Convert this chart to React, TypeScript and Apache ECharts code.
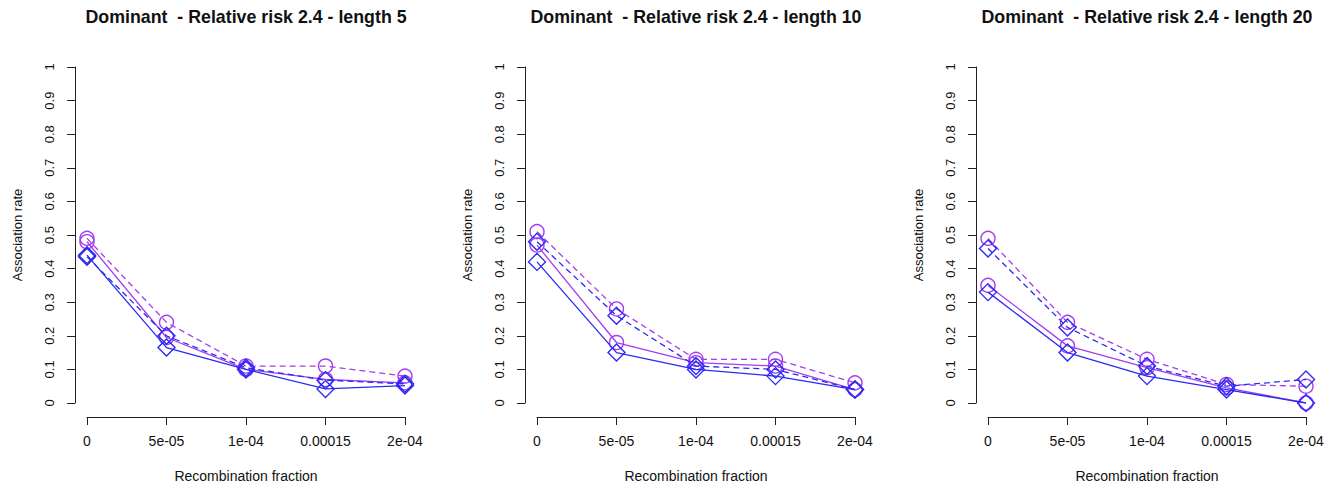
import React, { useEffect, useRef } from "react";
import * as echarts from "echarts";

const categories = ["0", "5e-05", "1e-04", "0.00015", "2e-04"];
const yTicks = [0, 0.1, 0.2, 0.3, 0.4, 0.5, 0.6, 0.7, 0.8, 0.9, 1];

const panelTitles = [
  "Dominant  - Relative risk 2.4 - length 5",
  "Dominant  - Relative risk 2.4 - length 10",
  "Dominant  - Relative risk 2.4 - length 20",
];

// length 5
const magentaSolid5 = [0.48, 0.195, 0.1, 0.07, 0.06];
const magentaDashed5 = [0.49, 0.24, 0.11, 0.11, 0.08];
const blueSolid5 = [0.44, 0.165, 0.1, 0.042, 0.052];
const blueDashed5 = [0.435, 0.2, 0.105, 0.068, 0.057];

// length 10
const magentaSolid10 = [0.47, 0.18, 0.12, 0.11, 0.04];
const magentaDashed10 = [0.51, 0.28, 0.13, 0.13, 0.06];
const blueSolid10 = [0.42, 0.15, 0.1, 0.08, 0.04];
const blueDashed10 = [0.48, 0.26, 0.11, 0.1, 0.04];

// length 20
const magentaSolid20 = [0.35, 0.17, 0.105, 0.045, 0.0];
const magentaDashed20 = [0.49, 0.24, 0.13, 0.055, 0.05];
const blueSolid20 = [0.33, 0.15, 0.08, 0.04, 0.0];
const blueDashed20 = [0.46, 0.225, 0.11, 0.05, 0.07];

const panelData = [
  [magentaSolid5, magentaDashed5, blueSolid5, blueDashed5],
  [magentaSolid10, magentaDashed10, blueSolid10, blueDashed10],
  [magentaSolid20, magentaDashed20, blueSolid20, blueDashed20],
];

const MAGENTA = "#a43cf0";
const BLUE = "#2a2af5";
const FONT = "'Liberation Sans', Arial, Helvetica, sans-serif";

const gridLefts = [87, 537, 988];
const gridWidth = 318;

export default function App() {
  const ref = useRef<HTMLDivElement>(null);

  useEffect(() => {
    document.body.style.margin = "0";
    if (!ref.current) return;
    const chart = echarts.init(ref.current, undefined, { renderer: "svg" });

    const grids = gridLefts.map((left) => ({
      left,
      width: gridWidth,
      top: 67,
      height: 336,
      containLabel: false,
    }));

    const xAxes = gridLefts.map((_, i) => ({
      type: "category",
      gridIndex: i,
      data: categories,
      boundaryGap: false,
      offset: 14,
      name: "Recombination fraction",
      nameLocation: "middle",
      nameGap: 52,
      nameTextStyle: { fontFamily: FONT, fontSize: 14, color: "#111" },
      axisLine: { show: true, onZero: false, lineStyle: { color: "#222", width: 1 } },
      axisTick: { show: true, inside: false, length: 8, alignWithLabel: true, lineStyle: { color: "#222" } },
      axisLabel: { margin: 17, fontFamily: FONT, fontSize: 14, color: "#111", interval: 0 },
      splitLine: { show: false },
    }));

    const yAxes = gridLefts.map((_, i) => ({
      type: "value",
      gridIndex: i,
      min: yTicks[0],
      max: yTicks[yTicks.length - 1],
      interval: 0.1,
      offset: 12,
      name: "Association rate",
      nameLocation: "middle",
      nameGap: 51,
      nameRotate: 90,
      nameTextStyle: { fontFamily: FONT, fontSize: 13, color: "#111" },
      axisLine: { show: true, lineStyle: { color: "#222", width: 1 } },
      axisTick: { show: true, inside: false, length: 8, lineStyle: { color: "#222" } },
      axisLabel: {
        rotate: 90,
        margin: 19,
        fontFamily: FONT,
        fontSize: 13,
        color: "#111",
        formatter: (v: number) => String(Math.round(v * 10) / 10),
      },
      splitLine: { show: false },
    }));

    const styles = [
      { color: MAGENTA, dashed: false, symbol: "circle", size: 14 },
      { color: MAGENTA, dashed: true, symbol: "circle", size: 14 },
      { color: BLUE, dashed: false, symbol: "diamond", size: 17 },
      { color: BLUE, dashed: true, symbol: "diamond", size: 17 },
    ];

    const series: any[] = [];
    panelData.forEach((lines, p) => {
      lines.forEach((vals, k) => {
        const s = styles[k];
        series.push({
          type: "line",
          xAxisIndex: p,
          yAxisIndex: p,
          data: vals,
          symbol: s.symbol,
          symbolSize: s.size,
          showAllSymbol: true,
          lineStyle: { color: s.color, width: 1.3, type: s.dashed ? [6, 4] : "solid" },
          itemStyle: { color: "rgba(0,0,0,0)", borderColor: s.color, borderWidth: 1.4 },
          emphasis: { disabled: true },
          z: 2 + k,
        });
      });
    });

    const graphic = panelTitles.map((t, i) => ({
      type: "text",
      x: gridLefts[i] + gridWidth / 2,
      y: 17,
      style: {
        text: t,
        fontFamily: FONT,
        fontSize: 17.8,
        fontWeight: "bold",
        fill: "#111",
        textAlign: "center",
        textVerticalAlign: "middle",
      },
    }));

    chart.setOption({
      animation: false,
      backgroundColor: "#fff",
      grid: grids,
      xAxis: xAxes,
      yAxis: yAxes,
      series,
      graphic,
      tooltip: { show: false },
    });

    return () => chart.dispose();
  }, []);

  return <div ref={ref} style={{ width: 1332, height: 488, background: "#fff" }} />;
}
